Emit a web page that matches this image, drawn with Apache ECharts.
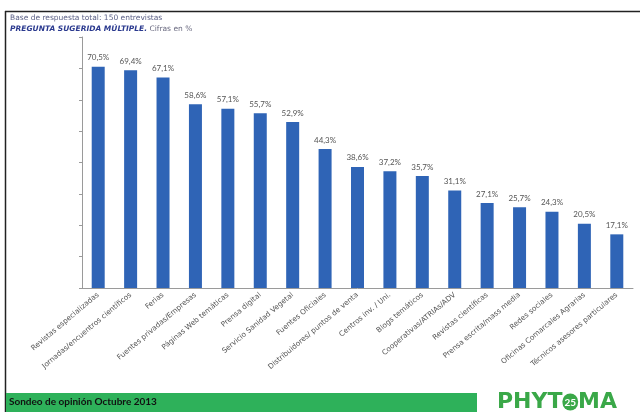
<!DOCTYPE html>
<html><head><meta charset="utf-8">
<script src="https://cdn.jsdelivr.net/npm/echarts@6/dist/echarts.min.js"></script>
<style>html,body{margin:0;padding:0;background:#fff}#c{width:640px;height:412px}</style>
</head><body><div id="c"></div>
<script>
var categories = ["Revistas especializadas","Jornadas/encuentros científicos","Ferias","Fuentes privadas/Empresas","Páginas Web temáticas","Prensa digital","Servicio Sanidad Vegetal","Fuentes Oficiales","Distribuidores/ puntos de venta","Centros inv. / Uni.","Blogs temáticos","Cooperativas/ATRIAs/ADV","Revistas científicas","Prensa escrita/mass media","Redes sociales","Oficinas Comarcales Agrarias","Técnicos asesores particulares"];
var values = [70.5,69.4,67.1,58.6,57.1,55.7,52.9,44.3,38.6,37.2,35.7,31.1,27.1,25.7,24.3,20.5,17.1];
var yTicks = [0,10,20,30,40,50,60,70,80];

var chart = echarts.init(document.getElementById('c'));
var fam = 'Lato, "DejaVu Sans", sans-serif';
var wide = '"DejaVu Sans", sans-serif';
chart.setOption({
  animation:false,
  backgroundColor:'#fff',
  title:{
    left:10, top:14, padding:0,
    text:'Base de respuesta total: 150 entrevistas',
    subtext:'{b|PREGUNTA SUGERIDA MÚLTIPLE.} {g|Cifras en %}',
    itemGap:3,
    textStyle:{fontSize:7.5,fontWeight:'normal',color:'#5a5f85',fontFamily:wide},
    subtextStyle:{fontSize:7.5,fontFamily:wide,rich:{
      b:{fontSize:7.5,fontWeight:'bold',fontStyle:'italic',color:'#2b3a8f',fontFamily:wide},
      g:{fontSize:7.5,color:'#6a6a80',fontFamily:wide}
    }}
  },
  grid:{left:82,right:7,top:37,bottom:124,containLabel:false},
  xAxis:{
    type:'category', data:categories,
    axisLine:{lineStyle:{color:'#9a9a9a',width:1}},
    axisTick:{show:false},
    axisLabel:{interval:0,rotate:40,fontSize:7.3,color:'#555',fontFamily:wide,margin:6}
  },
  yAxis:{
    type:'value', min:yTicks[0], max:yTicks[yTicks.length-1], interval:10,
    splitLine:{show:false},
    axisLine:{show:true,lineStyle:{color:'#9a9a9a',width:1}},
    axisTick:{show:true,inside:false,length:3,lineStyle:{color:'#9a9a9a'}},
    axisLabel:{show:false}
  },
  series:[{
    type:'bar', data:values, barWidth:13,
    itemStyle:{color:'#2f64b6'},
    label:{show:true,position:'top',distance:5,fontSize:8,color:'#555',fontFamily:fam,
      formatter:function(p){return p.value.toFixed(1).replace('.',',')+'%';}}
  }],
  graphic:[
    {type:'line',shape:{x1:5,y1:11.5,x2:640,y2:11.5},style:{stroke:'#222',lineWidth:1.5}},
    {type:'line',shape:{x1:5.5,y1:11,x2:5.5,y2:412},style:{stroke:'#222',lineWidth:1.5}},
    {type:'rect',shape:{x:6,y:393,width:471,height:19},style:{fill:'#2eb15a'}},
    {type:'text',left:9,top:397,style:{text:'Sondeo de opinión Octubre 2013',fontSize:10,fontWeight:'bold',fill:'#111',fontFamily:fam}},
    {type:'text',left:497,top:391,style:{text:'{a|PHYT}{c|25}{a|MA}',rich:{
      a:{fontSize:22,fontWeight:'bold',fill:'#3aa848',fontFamily:'"DejaVu Sans", sans-serif'},
      c:{fontSize:10,fontWeight:'bold',fill:'#fff',backgroundColor:'#3aa848',borderRadius:10,padding:[4,2,3,2],fontFamily:fam}
    }}}
  ]
});
</script></body></html>
